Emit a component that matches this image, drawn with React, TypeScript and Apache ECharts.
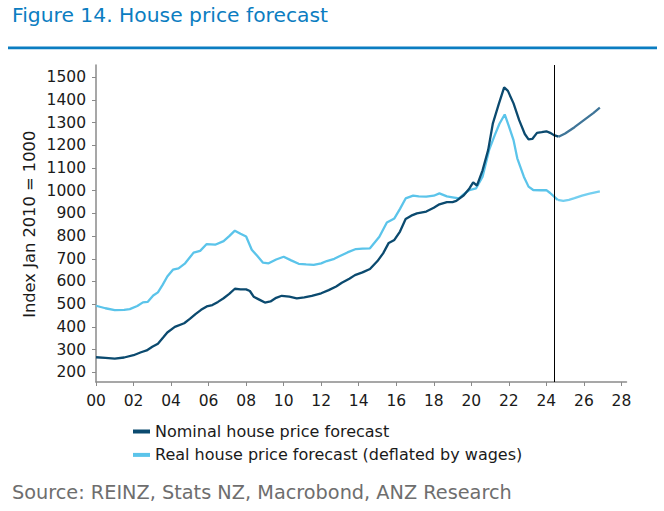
import React, { useEffect, useRef } from "react";
import * as echarts from "echarts";

const TITLE = "Figure 14. House price forecast";
const SOURCE = "Source: REINZ, Stats NZ, Macrobond, ANZ Research";
const Y_NAME = "Index Jan 2010 = 1000";
const NOMINAL_NAME = "Nominal house price forecast";
const REAL_NAME = "Real house price forecast (deflated by wages)";

const X_TICKS = [2000, 2002, 2004, 2006, 2008, 2010, 2012, 2014, 2016, 2018, 2020, 2022, 2024, 2026, 2028];
const Y_TICKS = [200, 300, 400, 500, 600, 700, 800, 900, 1000, 1100, 1200, 1300, 1400, 1500];
const FORECAST_START = 2024.4;

const nominalYears = [
  2000.0, 2000.5, 2001.0, 2001.5, 2002.0, 2002.4, 2002.7, 2003.0, 2003.3, 2003.6, 2003.8, 2004.2,
  2004.7, 2005.0, 2005.3, 2005.6, 2005.9, 2006.2, 2006.5, 2006.8, 2007.1, 2007.4, 2007.7, 2008.0,
  2008.2, 2008.4, 2008.7, 2009.0, 2009.3, 2009.6, 2009.9, 2010.3, 2010.7, 2011.1, 2011.5, 2012.0,
  2012.4, 2012.8, 2013.1, 2013.5, 2013.8, 2014.2, 2014.6, 2015.0, 2015.3, 2015.6, 2015.9, 2016.2,
  2016.5, 2016.8, 2017.1, 2017.6, 2018.0, 2018.3, 2018.7, 2019.0, 2019.2, 2019.6, 2019.9, 2020.1,
  2020.3, 2020.6, 2020.9, 2021.15, 2021.45, 2021.75, 2021.95, 2022.25, 2022.55, 2022.85, 2023.05,
  2023.25, 2023.5, 2023.75, 2024.0, 2024.2, 2024.4, 2024.65,
];
const nominalValues = [
  266, 263, 260, 265, 275, 288, 296, 312, 326, 355, 375, 400,
  416, 435, 456, 475, 490, 496, 510, 526, 545, 568, 565, 565,
  558, 533, 520, 507, 512, 528, 537, 533, 526, 530, 537, 548,
  562, 578, 594, 612, 628, 640, 655, 690, 724, 770, 783, 820,
  875, 890, 900, 908, 925, 940, 950, 950, 955, 980, 1010, 1037,
  1022, 1090, 1180, 1297, 1378, 1455, 1440, 1385, 1311, 1250, 1226,
  1228, 1255, 1258, 1262, 1255, 1245, 1238,
];

const nominalForecastYears = [2024.65, 2025.0, 2025.5, 2026.0, 2026.5, 2026.85];
const nominalForecastValues = [1238, 1252, 1280, 1311, 1342, 1366];

const realYears = [
  2000.0, 2000.5, 2001.0, 2001.5, 2001.8, 2002.2, 2002.5, 2002.75, 2003.05, 2003.3, 2003.55, 2003.8,
  2004.1, 2004.4, 2004.75, 2005.2, 2005.55, 2005.9, 2006.35, 2006.8, 2007.1, 2007.4, 2007.7, 2008.0,
  2008.3, 2008.6, 2008.9, 2009.2, 2009.6, 2010.0, 2010.4, 2010.8, 2011.2, 2011.6, 2012.0, 2012.3,
  2012.7, 2013.0, 2013.4, 2013.85, 2014.2, 2014.6, 2015.1, 2015.5, 2015.9, 2016.2, 2016.5, 2016.9,
  2017.2, 2017.6, 2018.0, 2018.3, 2018.7, 2019.0, 2019.35, 2019.6, 2019.9, 2020.25, 2020.6, 2020.95,
  2021.25, 2021.5, 2021.78, 2022.0, 2022.25, 2022.45, 2022.8, 2023.05, 2023.3, 2023.7, 2024.0, 2024.2,
  2024.4, 2024.6,
];
const realValues = [
  493, 482, 474, 475, 478, 492, 508, 510, 538, 552, 585, 622,
  652, 658, 680, 727, 735, 765, 762, 778, 800, 824, 810, 798,
  740, 712, 683, 680, 697, 709, 693, 678, 675, 673, 680, 690,
  700, 712, 728, 743, 745, 746, 797, 860, 878, 920, 966, 978,
  975, 974, 978, 988, 975, 971, 966, 985, 1003, 1010, 1062, 1180,
  1245, 1295, 1336, 1285, 1223, 1143, 1062, 1018, 1003, 1002, 1003, 990,
  975, 960,
];

const realForecastYears = [2024.6, 2024.9, 2025.2, 2025.5, 2025.9, 2026.3, 2026.85];
const realForecastValues = [960, 955, 960, 967, 978, 987, 997];

const pairs = (xs: number[], ys: number[]) => xs.map((x, i) => [x, ys[i]]);

const FONT = "DejaVu Sans";

export default function App() {
  const ref = useRef<HTMLDivElement>(null);

  useEffect(() => {
    if (!ref.current) return;
    const chart = echarts.init(ref.current, null, { renderer: "svg" });
    chart.setOption({
      animation: false,
      backgroundColor: "#ffffff",
      textStyle: { fontFamily: FONT },
      grid: { left: 96, right: 37.5, top: 65, bottom: 129, containLabel: false },
      xAxis: {
        type: "value",
        min: 2000,
        max: 2028.27,
        axisLine: { show: true, lineStyle: { color: "#8a8a8a", width: 1.5 } },
        axisTick: { show: true, length: 4, lineStyle: { color: "#8a8a8a", width: 1 }, customValues: X_TICKS },
        axisLabel: {
          customValues: X_TICKS,
          margin: 11,
          color: "#1a1a1a",
          fontSize: 15.5,
          fontFamily: FONT,
          formatter: (v: number) => String(Math.round(v) % 100).padStart(2, "0"),
        },
        splitLine: { show: false },
      },
      yAxis: {
        type: "value",
        min: 157,
        max: 1554,
        axisLine: { show: true, lineStyle: { color: "#8a8a8a", width: 1.5 } },
        axisTick: { show: true, length: 4, lineStyle: { color: "#8a8a8a", width: 1 }, customValues: Y_TICKS },
        axisLabel: {
          customValues: Y_TICKS,
          margin: 10,
          color: "#1a1a1a",
          fontSize: 15.5,
          fontFamily: FONT,
          formatter: (v: number) => String(Math.round(v)),
        },
        splitLine: { show: false },
      },
      legend: {
        show: true,
        orient: "vertical",
        left: 128,
        top: 418.5,
        padding: 5,
        itemWidth: 17,
        itemHeight: 4,
        itemGap: 7.4,
        icon: "rect",
        data: [NOMINAL_NAME, REAL_NAME],
        textStyle: { fontSize: 16, lineHeight: 16, color: "#1a1a1a", fontFamily: FONT },
      },
      series: [
        {
          name: REAL_NAME,
          type: "line",
          showSymbol: false,
          data: pairs(realYears, realValues),
          itemStyle: { color: "#5bc4ea" },
          lineStyle: { color: "#5bc4ea", width: 2.3 },
          z: 2,
        },
        {
          name: "real-forecast",
          type: "line",
          showSymbol: false,
          data: pairs(realForecastYears, realForecastValues),
          itemStyle: { color: "#74cff0" },
          lineStyle: { color: "#74cff0", width: 2.3 },
          z: 2,
        },
        {
          name: NOMINAL_NAME,
          type: "line",
          showSymbol: false,
          data: pairs(nominalYears, nominalValues),
          itemStyle: { color: "#0b4a6f" },
          lineStyle: { color: "#0b4a6f", width: 2.3 },
          z: 3,
          markLine: {
            silent: true,
            symbol: ["none", "none"],
            label: { show: false },
            lineStyle: { color: "#000000", width: 1, type: "solid" },
            data: [{ xAxis: FORECAST_START }],
          },
        },
        {
          name: "nominal-forecast",
          type: "line",
          showSymbol: false,
          data: pairs(nominalForecastYears, nominalForecastValues),
          itemStyle: { color: "#3f7598" },
          lineStyle: { color: "#3f7598", width: 2.3 },
          z: 3,
        },
      ],
      graphic: [
        {
          type: "text",
          left: 12,
          top: 5,
          style: { text: TITLE, fontSize: 20.3, fontFamily: FONT, fill: "#0b7dc1" },
        },
        {
          type: "rect",
          shape: { x: 8, y: 46.5, width: 649, height: 2.8 },
          style: { fill: "#0b7dc1" },
        },
        {
          type: "text",
          x: 29.5,
          y: 224.3,
          rotation: Math.PI / 2,
          style: {
            text: Y_NAME,
            fontSize: 16.3,
            fontFamily: FONT,
            fill: "#1a1a1a",
            align: "center",
            verticalAlign: "middle",
          },
        },
        {
          type: "text",
          left: 12,
          top: 483,
          style: { text: SOURCE, fontSize: 19.3, fontFamily: FONT, fill: "#6e6e6e" },
        },
      ],
    });
    return () => chart.dispose();
  }, []);

  return (
    <div
      ref={ref}
      style={{ position: "absolute", left: 0, top: 0, width: 664, height: 511 }}
    />
  );
}
